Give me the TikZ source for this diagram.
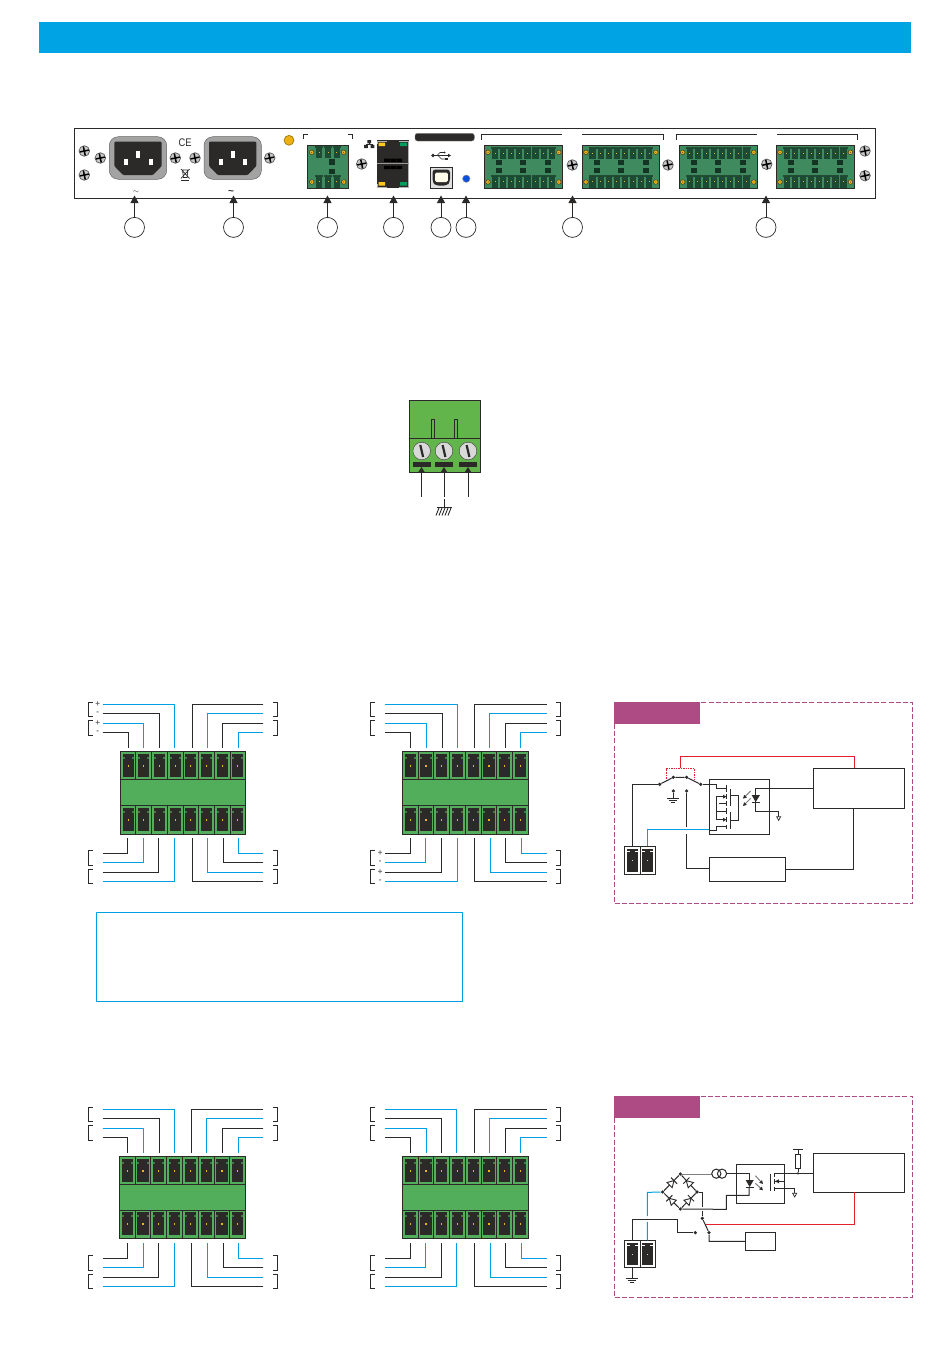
\documentclass[tikz,border=0pt]{standalone}
\usepackage{fontspec}
\setmainfont{Liberation Sans}
\usetikzlibrary{arrows.meta,calc}
\definecolor{ink}{HTML}{2B2A29}
\definecolor{cyanbar}{HTML}{00A3E4}
\definecolor{wblue}{HTML}{009FE3}
\definecolor{wred}{HTML}{E5202E}
\definecolor{tgreen}{HTML}{52AE5B}
\definecolor{cgreen}{HTML}{62B54A}
\definecolor{pgreen}{HTML}{3F8A5E}
\definecolor{dgreen}{HTML}{1C4A33}
\definecolor{magenta1}{HTML}{AE4A84}
\definecolor{ygold}{HTML}{EDB414}
\definecolor{rjyellow}{HTML}{FFC81E}
\definecolor{rjgreen}{HTML}{00A05A}
\definecolor{ledblue}{HTML}{0A50DC}
\tikzset{
  wirek/.style={line width=1pt,draw=ink},
  wireb/.style={line width=1pt,draw=wblue},
  wirer/.style={line width=1pt,draw=wred},
  wireg/.style={line width=1pt,draw=black!50},
  brk/.style={line width=1pt,draw=ink},
  callout/.style={circle,draw=ink,fill=white,line width=.7pt,minimum size=20pt,inner sep=0pt},
  upline/.style={line width=1pt,draw=ink,-{Triangle[length=7.5pt,width=8pt]}},
  sbox/.style={rectangle,draw=ink,line width=1pt,fill=white,inner sep=0pt},
  frame1/.style={draw=magenta1,line width=.8pt,dash pattern=on 5pt off 2.2pt},
  sign/.style={text=black!60,font=\bfseries\fontsize{8}{8}\selectfont,inner sep=0pt},
  cdot/.style={circle,fill=ink,inner sep=0pt,minimum size=3.6pt},
}
% screw
\newcommand\Screw[2]{%
  \fill[black!22,draw=black!65,line width=.7pt] (#1,#2) circle (5.3pt);
  \begin{scope}[shift={(#1,#2)},rotate=12]
    \draw[black,line width=1.5pt] (-4.6,0)--(4.6,0) (0,-4.6)--(0,4.6);
  \end{scope}}
% IEC inlet
\newcommand\Iec[1]{%
  \begin{scope}[shift={(#1,0)}]
  \fill[black!36,draw=black!60,line width=.5pt,rounded corners=9pt] (109.3,136.7) rectangle (166.7,179.3);
  \fill[ink,rounded corners=1pt] (114.3,141.7)--(161.7,141.7)--(161.7,166)--(153,175)--(123,175)--(114.3,166)--cycle;
  \fill[white] (136,151) rectangle (140,157.5);
  \fill[white] (124,159) rectangle (128,165);
  \fill[white] (148.5,159) rectangle (152.5,165);
  \end{scope}}
% small yellow dot
\newcommand\Gold[2]{\fill[ygold,draw=ink,line width=.4pt] (#1,#2) circle (2.3pt);\fill[ink] (#1,#2) circle (.5pt);}
% one pcb terminal: centre x, top y, bottom y
\newcommand\Pin[3]{%
  \fill[black!45!pgreen] ({#1-4},{#2}) rectangle ({#1+4},{#2+1.5});
  \fill[dgreen] ({#1-3.1},{#2+.8}) rectangle ({#1+3.1},{#3});
  \fill[ygold] ({#1-.5},{(#2+#3)/2-.5}) rectangle ({#1+.5},{(#2+#3)/2+.5});}
% large pcb block: x left, x right
\newcommand\Pcb[2]{%
  \fill[pgreen,draw=ink,line width=.8pt] (#1,145.3) rectangle (#2,188.7);
  \pgfmathsetmacro\st{(#2-#1-57)/2}
  \foreach \i in {0,...,7}{
    \pgfmathsetmacro\cx{#1+\st+8.1*\i}
    \Pin{\cx}{147}{159}
    \Pin{\cx}{175}{188}
  }
  \foreach \q in {15,39,63.7}{
    \fill[dgreen!70!black] ({#1+\q-3},159.8) rectangle ({#1+\q+3},164.8);
    \fill[dgreen!70!black] ({#1+\q-3},168) rectangle ({#1+\q+3},173.4);
  }
  \Gold{#1+3.7}{152.3}\Gold{#2-3.9}{152.3}\Gold{#1+3.7}{182}\Gold{#2-3.9}{182}}
% green terminal block
\newcommand\TBlock[9]{%
 % #1 name #2 free left #3 free right #4 y0 #5 xl #6 xr #7 height #8 top xs #9 bottom xs
  \fill[tgreen,draw=ink,line width=1pt] (#5,#4) rectangle (#6,{#4+#7});
  \draw[ink,line width=1pt] (#5,{#4+28.3})--(#6,{#4+28.3}) (#5,{#4+54.3})--(#6,{#4+54.3});
  \pgfmathsetmacro\cw{(#6-#5)/8}
  \foreach \i in {0,...,7}{
    \pgfmathsetmacro\xa{#5+\cw*\i}
    \pgfmathsetmacro\xb{\xa+\cw}
    \pgfmathsetmacro\xm{\xa+\cw/2}
    \ifnum\i>0 \draw[ink,line width=1pt] (\xa,#4)--(\xa,{#4+28.3}) (\xa,{#4+54.3})--(\xa,{#4+#7}); \fi
    \foreach \ya/\yb/\yd/\yt in {3/26/14.7/6,{#7-26.7}/{#7-3.7}/{#7-14.7}/{#7-23.7}}{
      \fill[ink] ({\xm-5.6},{#4+\ya}) rectangle ({\xm+5.6},{#4+\yb});
      \fill[tgreen!60!ink] ({\xm-5.6},{#4+\yt}) rectangle ({\xm-3.6},{#4+\yt+1.6});
      \fill[tgreen!60!ink] ({\xm+3.6},{#4+\yt}) rectangle ({\xm+5.6},{#4+\yt+1.6});
      \fill[ygold] ({\xm-.6},{#4+\yd-.9}) rectangle ({\xm+.6},{#4+\yd+.9});
    }
  }
  \foreach \x [count=\k] in {#8}{
    \pgfmathsetmacro\dy{{-46.7,-37.7,-27.7,-18.7,-46.7,-37.7,-27.7,-18.7}[\k-1]}
    \pgfmathtruncatemacro\isb{{1,0,1,0,0,1,0,1}[\k-1]}
    \ifnum\isb=1 \def\wst{wireb}\else\def\wst{wirek}\fi
    \ifnum\k<5 \def\fx{#2}\else\def\fx{#3}\fi
    \coordinate (#1tf\k) at (\fx,{#4+\dy});
    \coordinate (#1tp\k) at (\x,{#4-3.3});
    \draw[\wst] (#1tf\k) -| (#1tp\k);
  }
  \foreach \x [count=\k] in {#9}{
    \pgfmathsetmacro\dy{{102.3,111.3,121.3,130.3,130.3,121.3,111.3,102.3}[\k-1]}
    \pgfmathtruncatemacro\isb{{0,1,0,1,0,1,0,1}[\k-1]}
    \ifnum\isb=1 \def\wst{wireb}\else\def\wst{wirek}\fi
    \ifnum\k<5 \def\fx{#2}\else\def\fx{#3}\fi
    \coordinate (#1bf\k) at (\fx,{#4+\dy});
    \coordinate (#1bp\k) at (\x,{#4+87.3});
    \draw[\wst] (#1bf\k) -| (#1bp\k);
  }
  % brackets
  \pgfmathsetmacro\bl{#2-14.4}
  \pgfmathsetmacro\br{#3+14}
  \foreach \ya/\yb in {-48.7/-34.3,-30.7/-15.3,99.3/114.3,118.3/132.7}{
    \draw[brk] (\bl+4.5,{#4+\ya})-|(\bl,{#4+\yb})--(\bl+4.5,{#4+\yb});
    \draw[brk] (\br-4.5,{#4+\ya})-|(\br,{#4+\yb})--(\br-4.5,{#4+\yb});
  }}
% two-way connector in schematic
\newcommand\Conn[2]{%
  \draw[ink,line width=1pt,fill=white] (43,#1) rectangle (137,#2);
  \draw[ink,line width=1pt] (91,#1)--(91,#2);
  \foreach \xl in {50,96}{
    \fill[ink] (\xl,{#1+8}) rectangle ({\xl+34},{#2-8});
    \draw[white,line width=.5pt] (\xl,{#1+14})--({\xl+9},{#1+14}) ({\xl+25},{#1+14})--({\xl+34},{#1+14});
    \fill[black!15] ({\xl+15},{(#1+#2)/2-1}) rectangle ({\xl+19},{(#1+#2)/2+1});
  }}
\newcommand\GndTri[2]{\draw[ink,line width=.7pt,fill=white] ({#1-6},#2)--({#1+6},#2)--(#1,{#2+11})--cycle;}
\newcommand\Diode[3]{%
  \begin{scope}[shift={(#1,#2)},rotate=#3]
    \draw[ink,line width=.9pt,fill=white] (-9,-11)--(-9,11)--(10,0)--cycle;
    \draw[ink,line width=1pt] (10,-13)--(10,13);
  \end{scope}}
\begin{document}
\begin{tikzpicture}[x=1pt,y=-1pt]
\useasboundingbox (0,0) rectangle (950,1360);
\fill[white] (0,0) rectangle (950,1360);
% top bar
\fill[cyanbar] (39,22) rectangle (911,53);
% panel
\node[sbox,minimum width=801pt,minimum height=70pt,anchor=north west] (panel) at (74,128) {};
\Iec{0}
\Iec{94.7}
\foreach \a/\b in {84.3/151,84.3/175,100.3/158,175.3/158,195/158,269.7/158,361.7/164,572.3/165,668/165,766.7/164.3,865/151,865/175.7}{\Screw{\a}{\b}}
\node[font=\fontsize{11}{11}\selectfont,text=ink,inner sep=0pt,xscale=.85] (ce) at (185,143.2) {CE};
% weee bin
\draw[ink,line width=.7pt] (182,170)--(188.5,170) (182.5,170.5)--(183.5,177.5)--(187,177.5)--(188,170.5) (181,169)--(189.5,178.5) (189.5,169)--(181,178.5);
\fill[ink] (181.2,179.6) rectangle (189.2,181);
\node[font=\fontsize{7}{7}\selectfont,text=ink,inner sep=0pt] (t1) at (136,192.5) {$\sim$};
\node[font=\bfseries\fontsize{10}{10}\selectfont,text=ink,inner sep=0pt] (t2) at (231,192.3) {\textasciitilde};
\fill[ygold,draw=ygold!70!black,line width=.8pt] (289,140.3) circle (4.9pt);
\fill[ygold!90!orange] (289,140.3) circle (2.8pt);
% small pcb
\draw[brk] (303.3,139)|-(308,134.3);
\draw[brk] (352.7,139)|-(348,134.3);
\fill[pgreen,draw=ink,line width=.8pt] (307.3,145.3) rectangle (348.7,188.7);
\foreach \xx in {319.3,328,336.7}{\Pin{\xx}{146}{158}\Pin{\xx}{175}{188}}
\fill[dgreen!70!black] (329,158.5) rectangle (334.5,164.5);
\fill[dgreen!70!black] (329,169) rectangle (334.5,174);
\Gold{311.7}{152.3}\Gold{343.7}{152.3}\Gold{311.7}{182}\Gold{343.7}{182}
% network icon
\fill[ink] (367.4,140) rectangle (371,143.4) (364,144.8) rectangle (367.8,148) (370.6,144.8) rectangle (374.3,148);
\draw[ink,line width=.6pt] (369.2,143)--(369.2,144.2) (366,145)--(366,144.2)--(372.5,144.2)--(372.5,145);
% rj45
\fill[ink] (377,140) rectangle (409,187.7);
\draw[black!30,line width=.6pt] (377,144)|-(387,141) (399,141)-|(408.5,150) (377,183.5)|-(387,186.8) (399,186.8)-|(408.5,178) (408.5,150)--(408.5,178);
\fill[rjyellow] (378.5,142.5) rectangle (385,146) (378.5,182) rectangle (385,185.5);
\fill[rjgreen] (400,142.5) rectangle (407,146) (400,182) rectangle (407,185.5);
\draw[black!40,line width=1.1pt] (377,163.7)--(409,163.7);
\fill[black] (384,158.5) rectangle (402,161.8) (384,165.8) rectangle (402,169);
\foreach \s in {390,396}{\fill[black!40!ink] (\s,158.5) rectangle (\s+.7,161.8) (\s,165.8) rectangle (\s+.7,169);}
% sd slot
\fill[ink,draw=black!50,line width=.4pt,rounded corners=2.5pt] (415,133.3) rectangle (474.3,141);
% usb symbol
\draw[ink,line width=.8pt,-{Triangle[length=3pt,width=3.4pt]}] (433,155.5)--(451,155.5);
\fill[ink] (433,155.5) circle (1.8pt);
\draw[ink,line width=.6pt] (437,155.5)--(440,152.5)--(444,152.5) (438,155.5)--(441.5,159)--(445,159);
\fill[ink] (444.6,152.5) circle (1.1pt);
\fill[ink] (445,157.6) rectangle (447.6,160.2);
% usb b
\fill[black!12,draw=ink,line width=.7pt] (430,167) rectangle (452.7,188.7);
\fill[ink,rounded corners=3pt] (432.5,169.5)--(450,169.5)--(450,182)--(447,185.5)--(435.5,185.5)--(432.5,182)--cycle;
\fill[yellow!8,rounded corners=1.5pt] (435,172.5) rectangle (447.8,182);
\fill[ledblue,draw=black!45,line width=.5pt] (466.3,178.7) circle (3.7pt);
% big pcbs and brackets
\Pcb{484.3}{562.7}\Pcb{582.3}{659.7}\Pcb{679}{757.7}\Pcb{776.3}{854.3}
\draw[brk] (481.7,139.5)|-(562,134.3);
\draw[brk] (663,139.5)|-(582.3,134.3);
\draw[brk] (676,139.5)|-(756.7,134.3);
\draw[brk] (857.7,139.5)|-(777,134.3);
% callouts
\foreach \n/\x in {c1/134.5,c2/233.5,c3/327.5,c4/393.5,c5/441,c6/466,c7/572.5,c8/766}{
  \node[callout] (\n) at (\x,227.4) {};
  \coordinate (\n t) at (\x,195.5);
  \draw[upline] (\n) -- (\n t);
}
% centre connector
\fill[cgreen,draw=ink,line width=1pt] (409.3,400.3) rectangle (480.7,472.3);
\draw[ink,line width=1pt] (409.3,438.3)--(480.7,438.3);
\draw[ink,line width=.8pt] (431.3,438.3)|-(434.7,419.3)--(434.7,438.3);
\draw[ink,line width=.8pt] (454.3,438.3)|-(457.7,419.3)--(457.7,438.3);
\foreach \x/\a/\b in {421.7/412.7/431,444/435/453,468/459/477}{
  \fill[black!15,draw=black!70,line width=.5pt] (\x,451) circle (8.8pt);
  \draw[ink,line width=2.2pt] (\x-1.4,445)--(\x+1.4,457);
  \fill[ink] (\a,462) rectangle (\b,467);
}
\foreach \n/\x in {pa/421.5,pb/444,pc/468}{
  \coordinate (\n e) at (\x,496.7);
  \coordinate (\n t) at (\x,467);
  \draw[line width=1pt,draw=ink,-{Triangle[length=5.5pt,width=6.5pt]}] (\n e) -- (\n t);
}
\coordinate (gndc) at (444,507.5);
\draw[wirek] (444,499)--(gndc);
\draw[ink,line width=1.3pt] (436.7,507.5)--(451.7,507.5);
\foreach \h in {437.5,440.5,443.5,446.5,449.5}{\draw[ink,line width=.9pt] (\h+1.5,508)--(\h-1.5,515.5);}
% terminal blocks
\TBlock{a}{102.7}{263.3}{751}{120.3}{245.7}{83.7}{174.3,159.3,143.3,128.3,192.3,207.3,222.3,238.3}{127.3,143.3,158.3,174.3,192.3,207.3,223.3,238.3}
\TBlock{b}{385}{546.7}{751}{402.3}{528.3}{83.7}{457.3,442.3,426.3,410.3,474.3,489.3,505.3,520.3}{410.3,425.3,441.3,457.3,474.3,490.3,505.3,521.3}
\TBlock{c}{102.7}{263.3}{1156}{119.3}{245.7}{82.7}{174.3,159.3,143.3,127.3,191.3,206.3,222.3,238.3}{127.3,143.3,158.3,174.3,191.3,207.3,223.3,238.3}
\TBlock{d}{385}{546.7}{1156}{402.3}{528.3}{82.7}{456.3,441.3,426.3,410.3,474.3,489.3,505.3,520.3}{410.3,425.3,441.3,456.3,474.3,490.3,505.3,521.3}
\foreach \n/\y/\s in {s1/704.5/+,s2/713.3/-,s3/723.3/+,s4/732.3/-}{\node[sign] (\n) at (97.7,\y) {\s};}
\foreach \n/\y/\s in {s5/853.3/+,s6/862.3/-,s7/872.3/+,s8/881.3/-}{\node[sign] (\n) at (380.3,\y) {\s};}
% note box
\draw[wblue,line width=.8pt] (96.5,912.5) rectangle (462.5,1001.5);
%
% schematic 1 (zoom coordinates)
\begin{scope}[shift={(610,695)},x=.33333pt,y=-.33333pt]
  \draw[frame1] (13,22) rectangle (908,626);
  \fill[magenta1] (13,22) rectangle (270,87);
  \node[sbox,anchor=north west,minimum width=91pt,minimum height=40pt] (boxa) at (610,220) {};
  \node[sbox,anchor=north west,minimum width=60pt,minimum height=55pt] (relay) at (298,253) {};
  \node[sbox,anchor=north west,minimum width=76pt,minimum height=24pt] (boxc) at (298,487) {};
  \coordinate (r1) at (211,220); \coordinate (r2) at (733,220);
  \draw[wirer] (r1)--(211,185)--(733,185)--(r2);
  \draw[wred,line width=.8pt,dash pattern=on 1.4pt off 1pt] (170,258)--(170,221)--(253,221)--(253,258);
  \node[cdot] (d1) at (149,268) {}; \node[cdot] (d2) at (190,247) {}; \node[cdot] (d3) at (230,247) {}; \node[cdot] (d4) at (272,268) {};
  \node[cdot] (d5) at (190,288) {}; \node[cdot] (d6) at (230,288) {};
  \draw[wirek] (d1)--(d2)--(d3)--(d4);
  \draw[wirek] (d5)--(190,310);
  \draw[ink,line width=1pt] (172,310)--(208,310) (178,316)--(202,316) (184,322)--(196,322);
  \draw[wirek] (d6)--(230,395) (230,418)--(230,520)--(298,520);
  \draw[wirek] (527,523)--(730,523)--(730,340);
  \Conn{454}{539}
  \draw[wirek] (67,454)--(67,268)--(d1);
  \draw[wireb] (112,454)--(112,403)--(298,403);
  % relay inside
  \draw[wirek] (d4)--(319,268)--(319,281)--(349,281);
  \foreach \a/\b in {270/292,298/312,318/332,340/358,365/380,390/402}{\draw[ink,line width=1pt] (349,\a)--(349,\b);}
  \draw[ink,line width=1pt] (361,283)--(361,332) (361,350)--(361,402);
  \draw[wirek] (319,305)--(349,305) (319,305)--(319,374)--(349,374) (319,348)--(349,348) (328,325)--(349,325);
  \draw[wirek] (298,405)--(319,405)--(319,393)--(349,393);
  \draw[wirek] (361,301)--(385,301)--(385,376)--(361,376);
  \fill[ink] (349,305)--(339,299)--(339,311)--cycle (349,374)--(339,368)--(339,380)--cycle;
  \draw[black!50,line width=1pt,-{Triangle[length=3.5pt,width=3.5pt,color=ink]}] (422,288)--(399,311);
  \draw[black!50,line width=1pt,-{Triangle[length=3.5pt,width=3.5pt,color=ink]}] (422,310)--(399,333);
  \draw[wirek] (610,281)--(437,281)--(437,349)--(506,349)--(506,365);
  \fill[ink] (425,300)--(450,300)--(437,321)--cycle;
  \draw[ink,line width=1pt] (425,322)--(450,322);
  \GndTri{506}{365}
\end{scope}
%
% schematic 2 (zoom coordinates)
\begin{scope}[shift={(610,1090)},x=.33333pt,y=-.33333pt]
  \draw[frame1] (13,19) rectangle (908,622);
  \fill[magenta1] (13,19) rectangle (270,84);
  \node[sbox,anchor=north west,minimum width=91pt,minimum height=39pt] (boxb) at (610,190) {};
  \node[sbox,anchor=north west,minimum width=48pt,minimum height=39pt] (relayb) at (379,223) {};
  \node[sbox,anchor=north west,minimum width=30pt,minimum height=18pt] (boxd) at (406,427) {};
  \node[cdot] (t) at (211,252) {}; \node[cdot] (l) at (158,306) {}; \node[cdot] (rr) at (261,306) {}; \node[cdot] (bm) at (211,357) {};
  \draw[wirek] (t)--(l)--(bm)--(rr)--(t);
  \Diode{185}{279}{45}\Diode{236}{279}{135}\Diode{185}{332}{135}\Diode{236}{332}{45}
  \draw[wireg] (t)--(305,252);
  \draw[ink,line width=1pt,fill=white] (319,251) circle (4.6pt);
  \draw[ink,line width=1pt] (336,251) circle (4.6pt);
  \draw[wirek] (349,251)--(417,251)--(417,270);
  \fill[ink] (407,270)--(431,270)--(419,291)--cycle;
  \draw[ink,line width=1pt] (407,292)--(431,292);
  \draw[wirek] (417,292)--(417,316)--(349,316)--(349,358)--(bm);
  \draw[black!50,line width=1pt,-{Triangle[length=3.5pt,width=3.5pt,color=ink]}] (436,257)--(459,282);
  \draw[black!50,line width=1pt,-{Triangle[length=3.5pt,width=3.5pt,color=ink]}] (436,280)--(459,301);
  \draw[ink,line width=1pt] (481,251)--(481,303);
  \foreach \a/\b in {250/262,268/283,290/303}{\draw[ink,line width=1pt] (494,\a)--(494,\b);}
  \draw[wirek] (494,250)--(610,250);
  \draw[wirek] (523,250)--(523,274)--(494,274);
  \fill[ink] (495,274)--(507,268)--(507,280)--cycle;
  \draw[wirek] (494,296)--(554,296)--(554,310);
  \GndTri{554}{310}
  \node[cdot,minimum size=2.6pt] (rd) at (564,250) {};
  \draw[wirek] (rd)--(564,236) (564,194)--(564,178);
  \draw[ink,line width=1pt] (556,194) rectangle (572,236);
  \draw[ink,line width=1pt] (549,178)--(579,178);
  \node[cdot] (sa) at (277,385) {}; \node[cdot] (sb) at (297,428) {}; \node[cdot] (sc) at (256,428) {};
  \draw[wirek] (rr)--(277,306)--(277,350) (277,362)--(sa);
  \draw[wirek] (sa)--(sb)--(297,454)--(406,454);
  \draw[wirer] (287,403)--(733,403)--(733,307);
  \Conn{451}{533}
  \draw[wirek] (67,451)--(67,388)--(202,388)--(202,428)--(sc);
  \draw[wireb] (112,451)--(112,396) (112,378)--(112,307)--(l);
  \draw[wirek] (67,533)--(67,565);
  \draw[ink,line width=1pt] (47,565)--(83,565) (53,571)--(77,571) (59,576)--(71,576);
\end{scope}
\end{tikzpicture}
\end{document}
